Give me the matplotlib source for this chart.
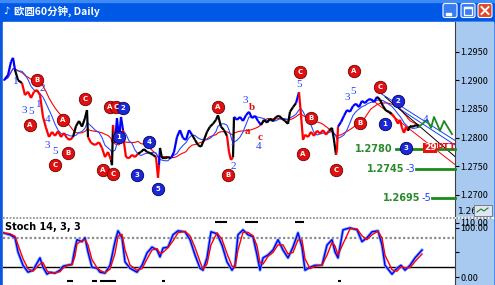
import matplotlib
matplotlib.use('Agg')
import matplotlib.pyplot as plt
from matplotlib.collections import LineCollection
from matplotlib.patches import Rectangle, FancyBboxPatch
import pandas as pd

plt.rcParams['font.family'] = ['Noto Sans CJK SC', 'DejaVu Sans']

title = '欧圆60分钟, Daily'

# price path (x = bar position on screen, close)
bar_x = [4, 8, 11, 13, 15, 18, 22,
         25, 28, 31, 34, 37, 40, 43, 46, 49, 52, 55, 58, 61, 64, 67, 70, 73,
         76, 79, 82, 85, 87, 88,
         91, 95, 99, 102, 105, 108, 111, 112, 113, 115,
         117, 119, 121, 123,
         124, 126, 129, 132, 135, 138,
         141, 144, 147, 150, 153, 156,
         158, 159, 160,
         162, 165, 168, 171,
         174, 177, 180, 183, 186, 189, 192,
         195, 198, 201, 204, 207, 210, 213, 216, 218, 221, 224, 227,
         229, 231, 233, 234,
         237, 240, 243, 246, 249, 252, 255, 258, 261,
         264, 267, 270, 273, 276, 279, 282, 285, 288, 290, 293, 296,
         299,
         301, 303, 305, 308, 311, 314, 317, 320, 323, 326, 329,
         332, 334, 336, 337, 338,
         341, 344, 347, 350, 353, 356, 359, 362, 365, 368, 371, 374, 377,
         380, 383, 386, 389, 392,
         395, 398, 400, 402, 404, 406, 408,
         410, 413, 416, 419]
bar_close = [1.2900, 1.2909, 1.2932, 1.2939, 1.2918, 1.2900, 1.2895,
             1.2874, 1.2880, 1.2869, 1.2880, 1.2883, 1.2874, 1.2836, 1.2817, 1.2801, 1.2810, 1.2803, 1.2811, 1.2801, 1.2808, 1.2799, 1.2796, 1.2801,
             1.2820, 1.2829, 1.2819, 1.2834, 1.2848, 1.2801,
             1.2791, 1.2787, 1.2792, 1.2782, 1.2766, 1.2775, 1.2761, 1.2752, 1.2822, 1.2791,
             1.2834, 1.2796, 1.2836, 1.2813,
             1.2791, 1.2766, 1.2764, 1.2770, 1.2766, 1.2772,
             1.2775, 1.2780, 1.2775, 1.2773, 1.2770, 1.2766,
             1.2730, 1.2752, 1.2782,
             1.2764, 1.2764, 1.2766, 1.2764,
             1.2775, 1.2801, 1.2813, 1.2799, 1.2796, 1.2813, 1.2805,
             1.2796, 1.2787, 1.2784, 1.2796, 1.2810, 1.2819, 1.2824, 1.2831, 1.2839, 1.2819, 1.2813, 1.2803,
             1.2775, 1.2761, 1.2766, 1.2836,
             1.2831, 1.2836, 1.2829, 1.2839, 1.2845, 1.2834, 1.2838, 1.2829, 1.2822,
             1.2831, 1.2826, 1.2833, 1.2829, 1.2836, 1.2838, 1.2833, 1.2829, 1.2824, 1.2845, 1.2853, 1.2860,
             1.2879,
             1.2839, 1.2796, 1.2805, 1.2801, 1.2810, 1.2803, 1.2812, 1.2807, 1.2813, 1.2805, 1.2812,
             1.2817, 1.2796, 1.2770, 1.2778, 1.2819,
             1.2827, 1.2838, 1.2848, 1.2845, 1.2855, 1.2859, 1.2853, 1.2864, 1.2860, 1.2866, 1.2867, 1.2862, 1.2871,
             1.2866, 1.2855, 1.2847, 1.2845, 1.2841,
             1.2834, 1.2824, 1.2831, 1.2817, 1.2808, 1.2819, 1.2812,
             1.2820, 1.2819, 1.2822, 1.2819]
# colour of the wave from each x on
wave_start = [4, 18, 25, 76, 91, 112, 115, 117, 124, 141, 158, 160, 162, 174, 195,
              229, 234, 237, 264, 299, 301, 332, 337, 341, 380, 395, 410]
wave_color = ['b', 'k', 'r', 'k', 'r', 'k', 'r', 'b', 'r', 'k', 'r', 'b', 'k', 'b', 'k',
              'r', 'k', 'b', 'k', 'b', 'r', 'k', 'r', 'b', 'k', 'r', 'k']

proj_x = [419, 427, 431, 434, 440, 444, 452]
proj_p = [1.2819, 1.2831, 1.2817, 1.2836, 1.2812, 1.2829, 1.2806]

# trend lines: x0, p0, x1, p1
trend_blue = [(378, 1.2880, 455, 1.2795), (398, 1.2852, 455, 1.2787)]
trend_black = [(385, 1.2871, 455, 1.2767)]
trend_red = [(372, 1.2866, 455, 1.2753)]

targets = [1.2780, 1.2745, 1.2695]
target_start = [396, 416, 432]
target_tag = ['', '-3', '-5']

red_circ_x = [37, 85, 30, 63, 68, 55, 103, 113, 110, 116, 218, 228, 300, 311, 303, 354, 380, 360, 336]
red_circ_p = [1.2900, 1.2867, 1.2822, 1.2831, 1.2773, 1.2752, 1.2744, 1.2737, 1.2853, 1.2853,
              1.2853, 1.2735, 1.2914, 1.2834, 1.2772, 1.2916, 1.2888, 1.2825, 1.2744]
red_circ_t = ['B', 'C', 'A', 'A', 'B', 'C', 'A', 'C', 'A', 'C', 'A', 'B', 'C', 'B', 'A', 'A', 'C', 'B', 'C']

blue_circ_x = [123, 119, 149, 137, 158, 398, 385, 406]
blue_circ_p = [1.2851, 1.2801, 1.2792, 1.2735, 1.2710, 1.2864, 1.2824, 1.2782]
blue_circ_t = ['2', '1', '4', '3', '5', '2', '1', '3']

blue_txt_x = [24, 31, 16, 39, 42, 48, 47, 55, 245, 233, 233, 259, 299, 347, 353, 426]
blue_txt_p = [1.2848, 1.2845, 1.2897, 1.2857, 1.2886, 1.2831, 1.2787, 1.2775,
              1.2864, 1.2791, 1.2749, 1.2784, 1.2893, 1.2869, 1.2880, 1.2831]
blue_txt_t = ['3', '5', '1', '1', '2', '4', '3', '5', '3', '1', '2', '4', '5', '3', '5', '4']
red_txt_x = [252, 260, 247]
red_txt_p = [1.2853, 1.2801, 1.2810]
red_txt_t = ['b', 'c', 'a']

# Stoch 14,3,3
stoch_x = [3, 10, 15, 18, 23, 28, 33, 40, 43, 47, 50, 55, 60, 63, 67, 72, 75, 77, 82, 85,
           88, 92, 97, 100, 105, 110, 115, 118, 122, 125, 130, 137, 142, 147, 152, 157, 160, 163, 168, 173,
           178, 185, 190, 195, 200, 203, 207, 211, 217, 222, 227, 232, 235, 238, 243, 248, 253, 257, 260, 263,
           268, 273, 278, 283, 288, 293, 298, 302, 305, 310, 315, 322, 327, 332, 335, 338, 343, 350, 357, 362,
           367, 372, 378, 382, 385, 392, 397, 401, 405, 410, 415, 422]
stoch_k = [90, 86, 80, 51, 24, 10, 14, 39, 20, 6, 10, 8, 14, 22, 24, 26, 59, 76, 72, 80,
           51, 20, 18, 10, 8, 24, 72, 94, 80, 31, 18, 10, 24, 49, 61, 55, 41, 59, 61, 86,
           94, 92, 76, 45, 18, 14, 39, 92, 88, 65, 31, 14, 24, 86, 96, 86, 82, 45, 14, 39,
           45, 55, 76, 55, 39, 61, 90, 61, 14, 20, 24, 24, 65, 76, 51, 39, 96, 100, 96, 72,
           80, 92, 94, 65, 24, 6, 18, 24, 14, 24, 39, 55]
marks_top = [(215, 227), (245, 258), (295, 304)]
marks_bottom = [(67, 73), (92, 97), (100, 116), (162, 165), (338, 341)]

COL = {'r': '#ff0000', 'b': '#0000ff', 'k': '#000000'}
XP_BLUE = '#0a56e2'
AXIS_BLUE = '#a8c9f0'

fig = plt.figure(figsize=(4.95, 2.85), dpi=100)
fig.patch.set_facecolor(XP_BLUE)

# window chrome in pixel coords
bg = fig.add_axes([0, 0, 1, 1])
bg.set_xlim(0, 495)
bg.set_ylim(285, 0)
bg.axis('off')
bg.add_patch(Rectangle((0, 0), 495, 22, color='#0058e6', zorder=1))
bg.add_patch(Rectangle((0, 0), 495, 2, color='#3d8af7', zorder=1))
bg.add_patch(Rectangle((3, 22), 490, 263, color='white', zorder=1))
bg.add_patch(Rectangle((455, 22), 38, 194, color=AXIS_BLUE, zorder=2))
bg.text(458, 211.5, '1.2650', fontsize=6.5, va='center', ha='left', zorder=2, family='DejaVu Sans')
bg.add_patch(Rectangle((3, 216.5), 490, 2, color='white', zorder=3))
bg.plot([3, 493], [217.5, 217.5], color='#888888', lw=1.2, ls=(0, (1, 1)), zorder=4)
bg.add_patch(Rectangle((455, 219), 38, 66, color=AXIS_BLUE, zorder=3))
bg.add_patch(Rectangle((474, 205), 18, 11, fc='#dce6f4', ec='#707070', lw=0.6, zorder=4))
bg.plot([477, 481, 484, 488], [212, 209, 211, 208], color='#208020', lw=0.8, zorder=5)
bg.text(14, 11.5, title, color='white', fontsize=7.5, fontweight='bold', va='center', ha='left', zorder=5)
bg.text(6, 11.5, '♪', color='white', fontsize=7, va='center', ha='center', zorder=5, family='DejaVu Sans')
for bx, fc in [(443, '#3a7cf2'), (461, '#3a7cf2'), (478, '#e0462a')]:
    bg.add_patch(FancyBboxPatch((bx, 3.5), 14, 14, boxstyle='round,pad=0,rounding_size=2',
                                fc=fc, ec='white', lw=0.8, zorder=5))
bg.add_patch(Rectangle((446, 13), 5, 2, color='white', zorder=6))
bg.add_patch(Rectangle((464, 6.5), 8, 8, fc='none', ec='white', lw=0.9, zorder=6))
bg.add_patch(Rectangle((464, 6.5), 8, 1.5, color='white', zorder=6))
bg.plot([481.5, 488.5], [7, 14], color='white', lw=1.4, zorder=6)
bg.plot([481.5, 488.5], [14, 7], color='white', lw=1.4, zorder=6)

# main price panel
ax = fig.add_axes([3 / 495, 69 / 285, 452 / 495, 194 / 285])
ax.set_xlim(3, 455)
ax.set_ylim(1.26634, 1.30014)
ax.set_facecolor('white')
for s in ['left', 'top', 'bottom']:
    ax.spines[s].set_visible(False)
ax.spines['right'].set_linestyle((0, (1, 1)))
ax.spines['right'].set_color('#404040')
ax.set_xticks([])
ax.yaxis.tick_right()
ax.set_yticks([1.2700, 1.2750, 1.2800, 1.2850, 1.2900, 1.2950])
ax.set_yticklabels(['%.4f' % v for v in ax.get_yticks()])
ax.tick_params(axis='y', labelsize=6.5, length=3, pad=1, width=0.8)

closes = pd.Series(bar_close)
ax.plot(bar_x, closes.rolling(12, min_periods=1).mean(), color='#ff0000', lw=0.8, zorder=2)
ax.plot(bar_x, closes.rolling(6, min_periods=1).mean(), color='#2a4cff', lw=0.8, zorder=2)

seg_col = []
for x in bar_x:
    c = 'k'
    for start, wc in zip(wave_start, wave_color):
        if x >= start:
            c = wc
    seg_col.append(COL[c])
segs = [[(bar_x[i - 1], bar_close[i - 1]), (bar_x[i], bar_close[i])] for i in range(1, len(bar_x))]
ax.add_collection(LineCollection(segs, colors=seg_col[1:], linewidths=1.6, zorder=3))

ax.plot(proj_x, proj_p, color='#1a8a1a', lw=1.3, zorder=3)
for lines, c in [(trend_blue, '#1840ff'), (trend_black, 'black'), (trend_red, '#ff0000')]:
    for x0, p0, x1, p1 in lines:
        ax.plot([x0, x1], [p0, p1], color=c, lw=0.7, zorder=2)

for p, x0, tag in zip(targets, target_start, target_tag):
    ax.plot([x0, 455], [p, p], color='#1a8a1a', lw=2, zorder=3, clip_on=False)
    if tag:
        ax.text(x0 - 1, p, tag, color='#2040ff', fontsize=7, ha='right', va='center', family='DejaVu Sans')
        ax.text(x0 - 12, p, '%.4f' % p, color='#2a8a2a', fontsize=7, fontweight='bold', ha='right', va='center',
                family='DejaVu Sans')
    else:
        ax.text(x0 - 3, p, '%.4f' % p, color='#2a8a2a', fontsize=7, fontweight='bold', ha='right', va='center',
                family='DejaVu Sans')
ax.text(424, 1.2782, '29', color='white', fontsize=6.5, fontweight='bold', va='center', ha='left',
        family='DejaVu Sans', bbox=dict(fc='#ee1010', ec='none', pad=0.6), zorder=6)
ax.text(436, 1.2782, 'PTT', color='#ee1010', fontsize=6.5, fontweight='bold', va='center', ha='left',
        family='DejaVu Sans', zorder=6)

ax.scatter(red_circ_x, red_circ_p, s=80, c='#e01010', edgecolors='#700000', linewidths=0.6, zorder=5)
ax.scatter(blue_circ_x, blue_circ_p, s=80, c='#1a28d8', edgecolors='#000060', linewidths=0.6, zorder=5)
for xs, ps, ts in [(red_circ_x, red_circ_p, red_circ_t), (blue_circ_x, blue_circ_p, blue_circ_t)]:
    for x, p, t in zip(xs, ps, ts):
        ax.text(x, p, t, color='white', fontsize=5, fontweight='bold', ha='center', va='center',
                zorder=6, family='DejaVu Sans')
for x, p, t in zip(blue_txt_x, blue_txt_p, blue_txt_t):
    ax.text(x, p, t, color='#2040ff', fontsize=8, ha='center', va='center', zorder=4, family='Liberation Serif')
for x, p, t in zip(red_txt_x, red_txt_p, red_txt_t):
    ax.text(x, p, t, color='#e01010', fontsize=8, fontweight='bold', ha='center', va='center', zorder=4,
            family='Liberation Serif')

# stochastic panel
sx = fig.add_axes([3 / 495, 1 / 285, 452 / 495, 65 / 285])
sx.set_xlim(3, 455)
sx.set_ylim(-14, 118)
sx.set_facecolor('white')
for s in ['left', 'top', 'bottom']:
    sx.spines[s].set_visible(False)
sx.spines['right'].set_linestyle((0, (1, 1)))
sx.spines['right'].set_color('#404040')
sx.set_xticks([])
sx.yaxis.tick_right()
sx.set_yticks([0, 50, 100, 110])
sx.set_yticklabels(['0.00', '', '100.00', '110.00'])
sx.tick_params(axis='y', labelsize=6.5, length=3, pad=1, width=0.8)
sx.axhline(80, color='#8c8c8c', lw=1.6, ls=(0, (1, 1)))
sx.axhline(20, color='black', lw=1)
k = pd.Series(stoch_k)
sx.plot(stoch_x, k, color='#80a8f0', lw=2.2, zorder=2)
sx.plot(stoch_x, k, color='#0000ff', lw=1, zorder=3)
sx.plot(stoch_x, k.rolling(2, min_periods=1).mean(), color='#ff0000', lw=1, zorder=4)
for a, b in marks_top:
    sx.plot([a, b], [112, 112], color='black', lw=1.5, solid_capstyle='butt')
for a, b in marks_bottom:
    sx.plot([a, b], [-8, -8], color='black', lw=1.5, solid_capstyle='butt')
sx.text(0.004, 0.96, 'Stoch 14, 3, 3', transform=sx.transAxes, fontsize=7, fontweight='bold',
        va='top', ha='left', family='DejaVu Sans')

fig.savefig('out.png', dpi=100, facecolor=fig.get_facecolor())
